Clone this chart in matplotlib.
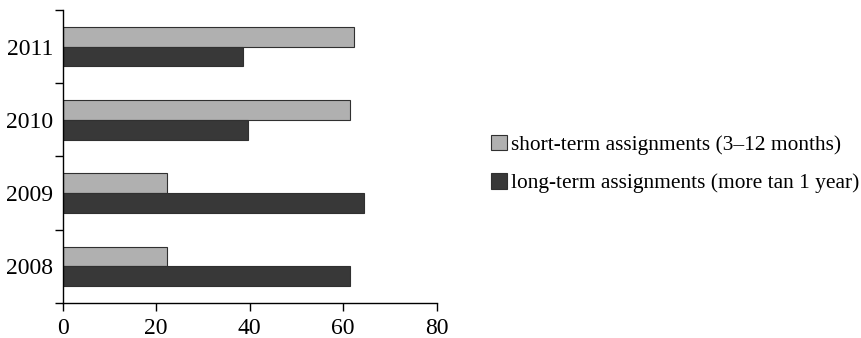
import numpy as np
import matplotlib.pyplot as plt
from matplotlib.patches import Patch

years = ['2008', '2009', '2010', '2011']
short_term = [22.4, 22.4, 61.5, 62.4]
long_term = [61.5, 64.5, 39.6, 38.6]
labels = ['short-term assignments (3\u201312 months)',
          'long-term assignments (more tan 1 year)']
light = '#b0b0b0'
dark = '#383838'

plt.rcParams['font.family'] = ['Liberation Serif', 'DejaVu Serif']

fig = plt.figure(figsize=(8.61, 3.38), dpi=100)
ax = fig.add_axes([0.0728, 0.1036, 0.4344, 0.8668])

y = np.arange(len(years))
h = 0.27
ax.barh(y + h / 2, short_term, height=h, color=light, edgecolor='#303030', linewidth=0.8)
ax.barh(y - h / 2, long_term, height=h, color=dark, edgecolor='#303030', linewidth=0.8)

ax.set_xlim(0, 80)
ax.set_ylim(-0.5, 3.5)
ax.set_xticks([0, 20, 40, 60, 80])
ax.set_yticks(y)
ax.set_yticklabels(years)
ax.set_yticks(np.arange(-0.5, 4, 1), minor=True)
ax.tick_params(axis='y', which='major', length=0, pad=7, labelsize=17)
ax.tick_params(axis='y', which='minor', length=6, width=1, direction='out')
ax.tick_params(axis='x', length=6, width=1, direction='out', pad=5, labelsize=17)
for s in ['top', 'right']:
    ax.spines[s].set_visible(False)
for s in ['left', 'bottom']:
    ax.spines[s].set_linewidth(1)

handles = [Patch(facecolor=light, edgecolor='#303030', linewidth=0.8),
           Patch(facecolor=dark, edgecolor='#303030', linewidth=0.8)]
fig.legend(handles, labels, loc='center left', bbox_to_anchor=(0.558, 0.515),
           frameon=False, fontsize=15.4, handlelength=0.75, handleheight=0.75,
           handletextpad=0.2, labelspacing=0.85, borderpad=0)

fig.savefig('out.png', dpi=100)
